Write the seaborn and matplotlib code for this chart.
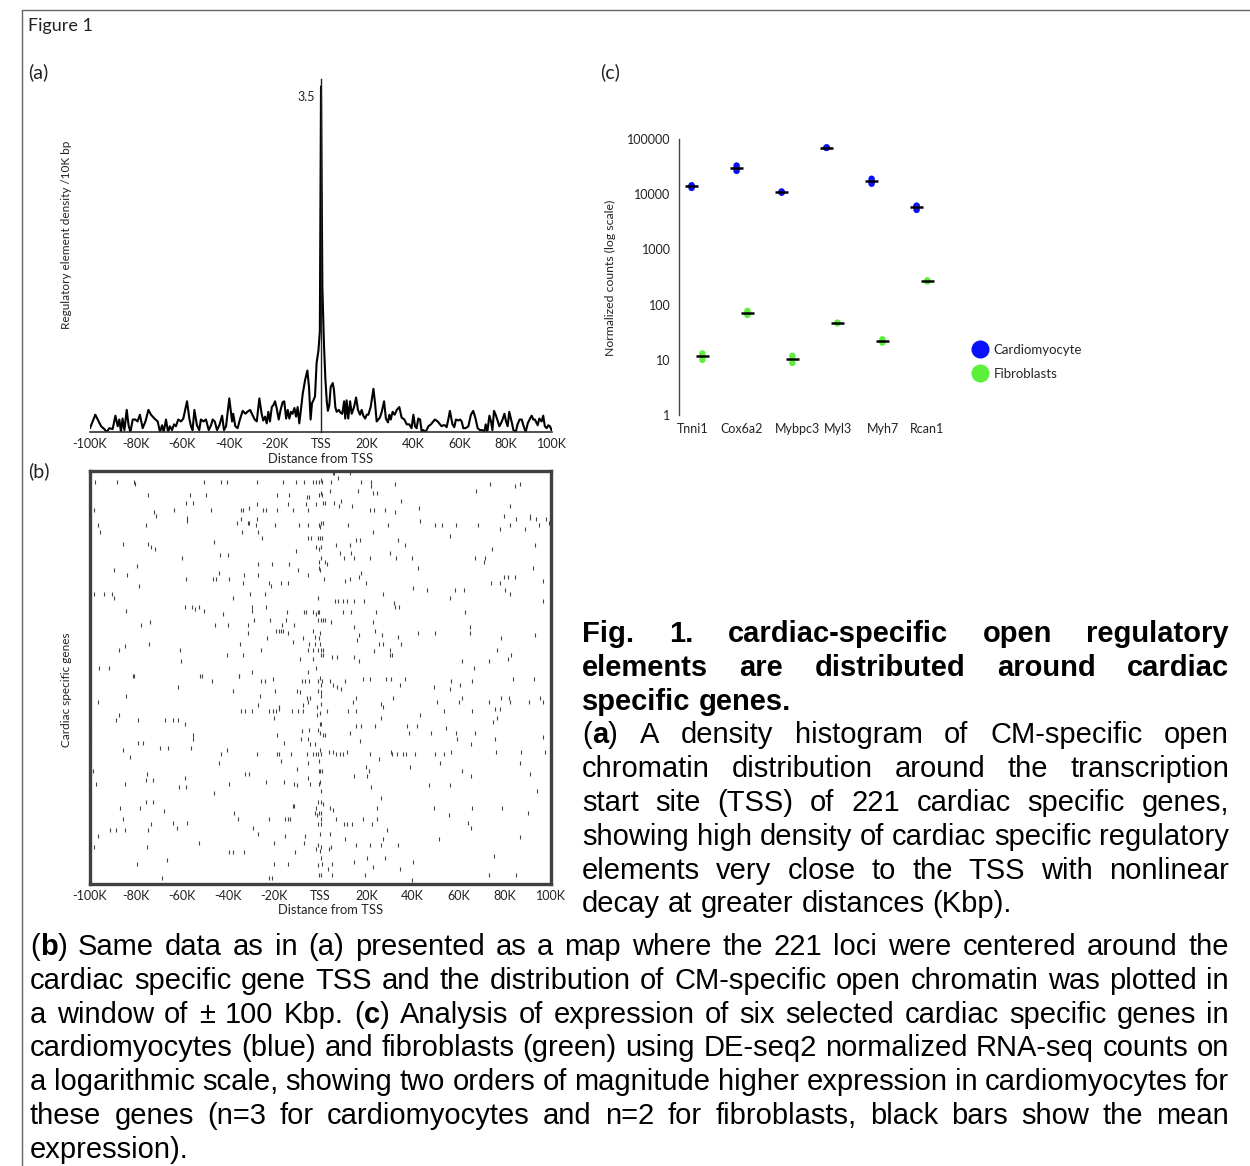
import matplotlib

matplotlib.use("Agg")

import matplotlib.pyplot as plt
import numpy as np
import pandas as pd
import seaborn as sns
from matplotlib.lines import Line2D
from matplotlib.transforms import IdentityTransform

sns.set_theme(style="white")
plt.rcParams["font.family"] = ["Lato", "DejaVu Sans"]

W, H = 1250, 1166

# ---- panel (a): density of regulatory elements around TSS (kb, density)
density_kb = [
    -100.0, -97.7, -95.2, -93.8, -92.8, -91.6, -90.2, -89.0, -88.0, -87.3, -86.6, -85.9, -85.1, -84.1,
    -83.3, -82.5, -81.5, -80.4, -79.4, -78.4, -77.2, -76.0, -74.7, -73.6, -72.1, -70.7, -69.7, -68.8,
    -68.1, -67.1, -66.2, -65.4, -64.5, -63.6, -62.8, -61.8, -60.6, -59.6, -58.0, -57.0, -56.3, -55.6,
    -54.8, -53.7, -52.7, -52.0, -50.9, -49.8, -48.6, -47.6, -46.9, -46.0, -45.0, -44.0, -42.8, -42.0,
    -41.1, -39.7, -38.5, -38.0, -37.1, -36.1, -35.1, -33.9, -32.7,
    -31.9, -30.7, -29.7, -28.7, -27.8, -26.7, -25.7, -25.0, -24.2, -23.5, -22.8, -22.1, -21.3, -20.6,
    -19.9, -19.2, -18.3, -17.5, -16.6, -15.9, -15.1, -14.4, -13.7, -13.0, -12.3, -11.5, -10.8, -10.1,
    -9.4, -8.7, -7.9, -6.9, -5.9, -5.2, -4.5, -3.9, -3.3, -2.6, -1.9, -1.1, -0.5, 0.0, 0.6, 1.3, 1.9,
    2.5, 3.0, 3.6, 4.2, 5.1, 5.6, 6.2, 6.8, 7.7, 8.5, 9.2, 10.0, 10.5, 11.1, 11.8, 12.6, 13.3, 14.3,
    15.2, 16.0, 16.9, 17.6, 18.3, 19.1, 19.8, 20.5, 21.5, 22.7, 23.4, 24.1, 24.8, 25.5, 26.3, 27.3,
    28.1, 29.0, 29.6, 30.2, 31.0, 31.9, 32.8, 33.9,
    34.9, 36.1, 37.1, 38.2, 39.2, 40.0, 40.7, 41.4, 42.1, 42.9, 43.6, 44.3, 45.3, 46.5, 47.6, 48.3,
    49.3, 50.5, 51.2, 52.2, 52.9, 53.7, 54.4, 55.1, 55.8, 56.9, 57.7, 58.4, 59.4, 60.2, 60.9, 61.6,
    62.6, 63.8, 64.9, 65.9, 66.9, 67.8, 68.8, 69.8, 70.7, 71.3, 72.0, 72.9, 73.6, 74.2, 74.9, 75.6,
    76.3, 77.2, 77.9, 78.6, 79.4, 80.1, 80.8, 81.5, 82.5, 83.3, 84.3, 85.1, 86.0, 86.9, 87.6, 88.6,
    89.5, 90.5, 91.2, 91.9, 92.6, 93.8, 94.5, 95.5, 96.2, 96.9, 97.7, 98.4, 99.1, 99.8,
]
density_val = [
    0.04, 0.18, 0.06, 0.03, 0.0, 0.04, 0.03, 0.17, 0.06, 0.13, 0.0, 0.14, 0.02, 0.23,
    0.07, 0.0, 0.13, 0.13, 0.11, 0.18, 0.04, 0.11, 0.23, 0.18, 0.14, 0.11, 0.0, 0.07,
    0.0, 0.13, 0.0, 0.06, 0.02, 0.08, 0.06, 0.13, 0.11, 0.14, 0.32, 0.14, 0.06, 0.02,
    0.23, 0.07, 0.02, 0.13, 0.11, 0.13, 0.02, 0.07, 0.13, 0.11, 0.02, 0.07, 0.17, 0.02,
    0.06, 0.35, 0.11, 0.19, 0.06, 0.04, 0.13, 0.22, 0.19,
    0.21, 0.23, 0.18, 0.13, 0.11, 0.35, 0.19, 0.12, 0.16, 0.09, 0.21, 0.11, 0.26, 0.28,
    0.32, 0.25, 0.13, 0.23, 0.31, 0.32, 0.14, 0.23, 0.14, 0.21, 0.19, 0.25, 0.16, 0.26,
    0.09, 0.23, 0.40, 0.54, 0.64, 0.47, 0.13, 0.30, 0.33, 0.37, 0.72, 0.85, 1.05, 3.6, 1.5, 0.9, 0.55,
    0.32, 0.22, 0.28, 0.47, 0.51, 0.44, 0.26, 0.21, 0.23, 0.20, 0.19, 0.32, 0.14, 0.33, 0.14, 0.32, 0.19, 0.26,
    0.36, 0.23, 0.18, 0.23, 0.17, 0.14, 0.18, 0.18, 0.26, 0.45, 0.30, 0.11, 0.13, 0.15, 0.21, 0.32,
    0.14, 0.10, 0.18, 0.13, 0.21, 0.18, 0.23, 0.26,
    0.15, 0.13, 0.08, 0.08, 0.04, 0.18, 0.06, 0.04, 0.14, 0.13, 0.0, 0.02, 0.0, 0.06, 0.08, 0.10,
    0.13, 0.11, 0.09, 0.06, 0.07, 0.07, 0.05, 0.13, 0.22, 0.08, 0.05, 0.13, 0.12, 0.13, 0.11, 0.04,
    0.04, 0.06, 0.18, 0.22, 0.14, 0.04, 0.02, 0.02, 0.0, 0.08, 0.0, 0.17, 0.11, 0.02, 0.22, 0.18,
    0.13, 0.06, 0.09, 0.13, 0.19, 0.11, 0.06, 0.21, 0.11, 0.02, 0.0, 0.08, 0.13, 0.13, 0.07, 0.0,
    0.09, 0.14, 0.17, 0.13, 0.13, 0.07, 0.14, 0.11, 0.17, 0.06, 0.04, 0.07, 0.06, 0.02,
]

distance_ticks = [-100, -80, -60, -40, -20, 0, 20, 40, 60, 80, 100]
distance_labels = ["-100K", "-80K", "-60K", "-40K", "-20K", "TSS", "20K", "40K", "60K", "80K", "100K"]

# ---- panel (b): element positions (kb from TSS, locus row 0..220), read per quadrant
marks_top_left = [
    (-97.7, 5), (-88.3, 5), (-80.7, 5), (-80.3, 6), (-50.4, 5), (-43.1, 5), (-40.5, 5), (-27.5, 5),
    (-16.4, 5), (-10.6, 5), (-7.0, 5), (-3.4, 5), (-1.9, 5), (-0.5, 5),
    (-74.7, 12), (-56.6, 12), (-49.6, 12), (-18.9, 12), (-13.5, 12), (-5.8, 13), (-4.8, 13), (-0.5, 12),
    (-58.3, 16), (-55.1, 16), (-27.5, 17), (-14.2, 17), (-6.3, 17), (-1.9, 17),
    (-98.1, 20), (-72.1, 21), (-71.3, 23), (-63.7, 20), (-58.0, 24), (-57.9, 26), (-47.5, 20),
    (-34.5, 20), (-33.7, 20), (-31.1, 19), (-25.1, 20), (-23.6, 20), (-18.9, 20), (-12.1, 20), (-5.5, 20),
    (-34.5, 25), (-36.2, 27), (-31.6, 27), (-30.9, 27), (-27.5, 25),
    (-96.6, 28), (-75.7, 28), (-27.9, 28), (-19.6, 28), (-9.2, 28), (-5.5, 28), (-0.5, 28),
    (-95.6, 32), (-34.2, 32), (-27.2, 32), (-25.5, 35), (-5.5, 35), (-4.1, 35), (-1.2, 35),
    (-46.0, 37), (-85.8, 38), (-74.9, 38), (-73.5, 40), (-71.8, 41), (-1.9, 40), (-0.5, 41),
    (-10.6, 42), (-43.6, 44), (-40.2, 44), (-60.2, 46),
    (-27.2, 49), (-21.2, 49), (-13.5, 49), (-0.5, 48), (-0.5, 51), (-79.7, 50), (-89.7, 52), (-9.9, 52),
    (-44.1, 54), (-84.1, 55), (-33.4, 55), (-27.2, 55), (-5.5, 55),
    (-58.3, 57), (-46.8, 57), (-45.3, 57), (-39.5, 57),
    (-33.7, 59), (-22.5, 59), (-21.4, 61), (-17.1, 59), (-14.2, 59), (-78.6, 61),
    (-98.1, 65), (-94.0, 65), (-90.6, 65), (-89.4, 67), (-30.4, 65), (-23.9, 65), (-38.1, 67), (-0.9, 67),
    (-59.0, 72), (-55.7, 72), (-54.4, 73), (-52.8, 72), (-50.4, 74), (-29.8, 72), (-29.8, 74), (-23.6, 72),
    (-84.3, 74), (-14.5, 75), (-7.0, 75), (-6.3, 75), (-3.4, 75), (-1.9, 76), (-0.9, 75), (-42.1, 76),
    (-14.9, 79), (-28.7, 79), (-21.9, 79), (-0.9, 79), (-73.8, 80),
    (-77.8, 82), (-45.7, 82), (-40.2, 82), (-31.3, 82), (-16.7, 82), (-11.3, 82),
    (-19.3, 85), (-17.8, 85), (-17.1, 85), (-16.4, 85), (-14.2, 86), (-3.1, 85), (-31.3, 86),
    (-2.5, 88), (-23.2, 89), (-7.7, 89), (-0.5, 89), (-12.1, 91),
    (-74.2, 92), (-34.9, 92), (-4.8, 92), (-2.6, 92), (-84.6, 93),
    (-87.5, 95), (-60.9, 95), (-25.8, 95), (-5.5, 95), (-3.4, 95), (-1.2, 95),
    (-40.5, 98), (-33.7, 98), (-8.9, 100), (-3.4, 100), (-60.5, 101),
    (-96.2, 105), (-91.9, 105), (-1.9, 105), (-29.8, 107), (-5.5, 107),
    (-81.5, 109), (-80.8, 109), (-52.1, 109), (-51.5, 109), (-35.2, 109),
]
marks_top_right = [
    (5.4, 0), (5.9, 0), (12.9, 0), (0.4, 4), (0.7, 5), (4.4, 5), (7.6, 3), (17.4, 5), (21.8, 5),
    (32.5, 6), (73.4, 6), (84.2, 7), (86.7, 6), (22.1, 7),
    (4.0, 10), (16.3, 10), (22.8, 11), (24.7, 11), (67.6, 10), (0.1, 11), (0.7, 12),
    (35.1, 15), (8.8, 15), (1.1, 16), (2.1, 16), (5.9, 16), (7.9, 18), (13.8, 18), (82.4, 18), (42.7, 19),
    (21.6, 20), (23.1, 20), (27.8, 20), (32.5, 21), (79.5, 23), (90.7, 23),
    (84.7, 25), (90.7, 24), (93.6, 25), (98.0, 25), (43.0, 26), (0.1, 27), (0.9, 27), (99.0, 27),
    (11.9, 28), (29.3, 28), (49.5, 28), (52.7, 28), (58.6, 28), (68.3, 28), (82.1, 28), (94.6, 28),
    (-0.4, 29), (77.7, 30), (88.9, 30), (22.8, 32), (56.3, 34), (-0.4, 35), (0.7, 35),
    (15.3, 36), (17.0, 36), (33.6, 36), (6.9, 39), (12.7, 39), (36.5, 39), (92.9, 39), (0.1, 40),
    (74.4, 41), (8.6, 43), (13.4, 43), (30.0, 43),
    (10.2, 46), (14.5, 46), (21.3, 46), (32.9, 46), (39.7, 46), (67.2, 46), (71.2, 46), (0.4, 46), (1.8, 48),
    (70.8, 48), (3.0, 49), (42.3, 51), (92.2, 51), (-0.4, 52), (17.7, 54),
    (16.6, 56), (79.6, 56), (81.3, 56), (84.2, 56), (1.4, 57), (12.9, 57), (10.5, 58), (96.5, 58),
    (19.9, 59), (74.1, 59), (77.7, 59), (40.1, 62), (46.3, 63), (58.2, 63), (62.1, 63), (80.2, 63),
    (27.1, 65), (82.1, 65), (56.0, 67),
    (6.4, 69), (7.6, 69), (9.8, 69), (11.6, 69), (14.5, 69), (18.9, 69), (96.5, 69),
    (31.7, 70), (32.5, 72), (33.9, 72), (-0.6, 75), (9.8, 75), (13.2, 75), (23.9, 75), (62.5, 75),
    (0.1, 79), (1.1, 79), (2.1, 79), (4.4, 80), (22.8, 80), (14.5, 83), (64.7, 83), (23.5, 85),
    (-0.4, 86), (42.3, 86), (49.5, 86), (64.7, 86), (16.7, 87), (26.8, 87), (92.9, 87), (33.6, 88),
    (78.4, 89), (16.0, 90), (-0.1, 92), (25.4, 92), (27.1, 92), (34.8, 92),
    (0.4, 95), (1.1, 95), (30.0, 95), (76.6, 95), (23.2, 96),
    (0.1, 98), (1.1, 98), (30.3, 98), (31.0, 98), (82.5, 98), (5.0, 99), (7.3, 99), (14.5, 99), (81.3, 100),
    (16.7, 101), (61.4, 101), (73.0, 101), (66.4, 105),
]
marks_bottom_left = [
    (-47.0, 112), (-35.2, 109), (-25.8, 112), (-24.0, 112), (-20.7, 111), (-8.0, 112), (-6.6, 112),
    (-5.1, 112), (-0.9, 112), (-61.9, 115), (-38.1, 117), (-19.6, 117), (-10.3, 117), (-0.9, 117),
    (-8.9, 118), (-84.3, 120), (-26.1, 120), (-6.0, 121), (-4.5, 121), (-96.6, 123), (-5.3, 123),
    (-26.9, 125), (-7.4, 125), (-17.8, 126), (-1.6, 126),
    (-34.5, 128), (-32.6, 128), (-29.7, 128), (-22.5, 128), (-20.7, 128), (-19.3, 128), (-17.8, 127),
    (-12.5, 128), (-9.9, 128), (-7.4, 128), (-1.6, 130), (-87.5, 130), (-20.0, 132),
    (-88.7, 133), (-79.3, 133), (-67.4, 133), (-63.8, 133), (-61.9, 133), (-58.9, 135), (-0.2, 135),
    (-4.8, 138), (-0.9, 138), (-8.0, 139), (-99.4, 141), (-55.4, 141), (-55.4, 143), (-19.0, 141),
    (-8.4, 143), (-5.5, 143), (-79.3, 145), (-76.8, 145), (-15.7, 145), (-4.5, 146), (-2.6, 146),
    (-69.6, 148), (-66.3, 148), (-56.2, 148), (-85.5, 149), (-40.4, 149), (-0.1, 149),
    (-43.1, 151), (-27.5, 151), (-18.8, 151), (-18.1, 151), (-12.8, 151), (-6.0, 151), (-3.4, 151),
    (-1.9, 151), (-0.9, 151), (-82.5, 153), (-17.1, 155), (-0.8, 155), (-43.9, 156), (-5.5, 156),
    (-10.3, 159), (-98.8, 160), (-0.5, 160), (-75.4, 162), (-32.6, 162), (-31.1, 162), (-59.0, 164),
    (-5.5, 164), (-75.7, 165), (-72.8, 165), (-23.6, 166), (-15.9, 166),
    (-97.4, 167), (-84.6, 167), (-39.9, 167), (-4.5, 167), (-0.5, 167), (-11.6, 167), (-10.3, 168),
    (-61.2, 169), (-58.3, 169), (-46.3, 172), (-75.7, 177), (-72.8, 177), (-0.9, 177), (-1.9, 180),
    (-0.5, 183), (-12.1, 179), (-11.3, 179), (-87.2, 180), (-78.1, 180), (-67.7, 182),
    (-37.4, 183), (-2.6, 183), (-1.5, 184), (-85.5, 186), (-35.6, 186), (-22.5, 186), (-15.4, 186),
    (-14.2, 186), (-13.2, 186), (-63.8, 188), (-58.0, 188), (-73.5, 189), (-0.9, 189), (-29.4, 191),
    (-62.4, 191), (-91.3, 192), (-88.7, 192), (-84.8, 192), (-75.0, 192), (-26.9, 194),
    (-96.6, 195), (-15.4, 195), (-6.6, 195), (-52.5, 199), (-20.3, 199), (-7.0, 199), (-1.2, 200),
    (-98.4, 201), (-75.2, 201), (-1.9, 202), (-39.8, 204), (-38.1, 204), (-33.0, 204), (-10.9, 204),
    (-66.7, 208), (-79.6, 210), (-20.0, 210), (-14.2, 210), (-0.9, 211),
    (-68.9, 218), (-22.2, 218), (-21.2, 218), (-0.5, 216),
]
marks_bottom_right = [
    (-0.4, 110), (0.7, 112), (0.1, 114), (4.0, 112), (10.5, 112), (18.4, 111), (21.6, 111), (28.3, 111),
    (30.4, 111), (36.8, 111), (56.8, 112), (65.9, 112), (83.5, 111), (92.5, 111),
    (5.4, 114), (7.3, 115), (8.8, 116), (34.6, 114), (49.1, 115), (56.0, 116), (60.4, 114),
    (0.1, 118), (0.4, 120), (15.3, 121), (31.5, 121), (61.4, 121), (78.2, 121), (81.6, 121), (95.1, 121),
    (14.1, 123), (50.7, 123), (59.9, 123), (73.1, 123), (82.1, 123), (90.3, 123), (96.5, 123),
    (0.1, 124), (26.1, 124), (27.1, 126), (75.6, 127), (77.7, 127),
    (3.0, 128), (11.9, 128), (15.3, 128), (53.4, 128), (65.7, 128), (-0.4, 129), (43.3, 130),
    (26.4, 132), (76.6, 132), (74.8, 134), (0.1, 135),
    (15.3, 136), (17.7, 136), (23.5, 136), (37.7, 136), (42.0, 136), (54.6, 137),
    (-0.4, 140), (1.1, 141), (2.1, 141), (12.9, 140), (38.2, 140), (48.1, 140), (58.6, 140), (66.9, 140),
    (96.5, 142), (59.4, 143), (75.6, 143), (17.0, 144), (65.4, 146),
    (3.7, 150), (5.4, 150), (11.6, 150), (30.4, 150), (56.8, 150), (76.0, 150), (86.8, 150), (97.5, 150),
    (0.1, 151), (6.9, 151), (8.3, 151), (9.8, 151), (21.3, 151), (31.0, 151), (33.2, 151), (35.8, 151),
    (37.2, 151), (40.9, 151), (49.8, 151), (53.6, 151),
    (25.4, 154), (51.7, 156), (86.4, 156), (38.7, 158), (-0.4, 160), (0.7, 160), (19.9, 158), (20.9, 160),
    (61.4, 160), (90.7, 162), (14.5, 163), (65.4, 163), (20.3, 163), (-0.4, 166), (46.9, 168), (56.3, 168),
    (21.8, 169), (94.1, 171), (0.1, 171), (26.1, 175), (0.1, 177), (1.1, 178),
    (24.7, 180), (4.0, 180), (5.4, 181), (78.9, 180), (49.1, 180), (65.7, 180), (0.1, 183), (90.0, 183),
    (55.6, 184), (0.1, 186), (6.9, 186), (18.4, 186), (24.7, 186), (64.0, 188),
    (0.4, 189), (10.2, 189), (11.6, 189), (13.8, 189), (22.5, 189), (65.1, 191), (29.0, 192),
    (-0.4, 194), (4.0, 194), (86.4, 196), (10.5, 197), (27.1, 197), (51.3, 197),
    (15.5, 200), (21.3, 200), (26.4, 200), (33.6, 200), (0.4, 201), (4.7, 201), (3.5, 202), (-0.4, 203),
    (75.3, 206), (20.2, 207), (27.8, 207), (0.1, 207), (14.5, 209), (40.1, 209), (0.7, 210), (5.0, 210),
    (22.8, 212), (3.3, 213), (34.4, 213), (5.0, 216), (19.2, 216), (73.1, 216), (85.0, 216), (0.1, 216),
    (39.8, 219),
]
n_loci = 221

# ---- panel (c): normalized RNA-seq counts
genes = ["Tnni1", "Cox6a2", "Mybpc3", "Myl3", "Myh7", "Rcan1"]
cm_counts = [[14500, 13000, 14000], [33000, 30000, 26500], [11200, 10800, 10700],
             [70500, 69000, 69500], [19000, 17000, 15500], [6200, 6000, 5200]]
fb_counts = [[13.0, 10.0], [77, 65], [11.8, 8.8], [47, 46], [23.5, 20.5], [275, 262]]
cell_colors = {"Cardiomyocyte": "#0a10f8", "Fibroblasts": "#5cf03c"}
# the original gene labels sit slightly off their columns
label_shift = [-0.09, 0.0, 0.24, 0.14, 0.14, 0.12]


fig = plt.figure(figsize=(W / 100, H / 100), dpi=100)
fig.patch.set_facecolor("white")


def px_axes(left, top, right, bottom):
    return fig.add_axes([left / W, 1 - bottom / H, (right - left) / W, (bottom - top) / H])


def ptext(x, y, s, **kw):
    fig.text(x / W, 1 - y / H, s, **kw)


TICK_SIZE = 9
LABEL_SIZE = 9.3

# outer frame and headers
fig.add_artist(Line2D([22 / W, 22 / W], [1 - 10 / H, 0], color="#666666", lw=1.0))
fig.add_artist(Line2D([22 / W, 1], [1 - 10 / H, 1 - 10 / H], color="#666666", lw=1.0))
ptext(28, 26, "Figure 1", fontsize=13, color="#222222", va="center")
ptext(28, 72, "(a)", fontsize=14, color="#222222", va="center")
ptext(28, 471, "(b)", fontsize=14, color="#222222", va="center")
ptext(600, 72, "(c)", fontsize=14, color="#222222", va="center")

# ---------------- (a)
ax_a = px_axes(90, 432 - 3.68 * 96, 552, 432)
sns.lineplot(x=density_kb, y=density_val, ax=ax_a, color="black", linewidth=1.5,
             solid_joinstyle="round")
ax_a.set_xlim(-100, 100)
ax_a.set_ylim(0, 3.68)
for side in ["top", "right"]:
    ax_a.spines[side].set_visible(False)
ax_a.spines["left"].set_position(("data", 0))
ax_a.spines["left"].set_color("#222222")
ax_a.spines["left"].set_linewidth(1.0)
ax_a.spines["bottom"].set_color("#333333")
ax_a.spines["bottom"].set_linewidth(1.2)
ax_a.set_xticks(distance_ticks)
ax_a.set_xticklabels(distance_labels)
ax_a.set_yticks([0.5, 1.0, 1.5, 2.0, 2.5, 3.0, 3.5])
ax_a.set_yticklabels(["", "", "", "", "", "", "3.5"])
ax_a.tick_params(axis="x", length=3, width=0.8, direction="out", labelsize=TICK_SIZE, pad=1.5,
                 colors="#222222")
ax_a.tick_params(axis="y", length=3, width=0.8, direction="out", labelsize=TICK_SIZE, pad=1,
                 colors="#222222")
ax_a.set_xlabel("")
ax_a.set_ylabel("")
ptext(321, 459, "Distance from TSS", fontsize=LABEL_SIZE, ha="center", va="center", color="#222222")
ptext(67, 235, "Regulatory element density /10K bp", fontsize=8.5, rotation=90,
      ha="center", va="center", color="#222222")

# ---------------- (b)
marks = pd.DataFrame(marks_top_left + marks_top_right + marks_bottom_left + marks_bottom_right,
                     columns=["kb", "locus"])
ax_b = px_axes(90, 471, 551, 884)
sns.scatterplot(data=marks, x="kb", y="locus", marker="|", s=7, color="#444444",
                linewidth=0.8, ax=ax_b, legend=False)
ax_b.set_xlim(-100, 100)
ax_b.set_ylim(n_loci, -1)
ax_b.set_yticks([])
ax_b.set_xticks(distance_ticks)
ax_b.set_xticklabels(distance_labels)
ax_b.tick_params(axis="x", length=3, width=0.8, direction="out", labelsize=TICK_SIZE, pad=1.5,
                 colors="#222222")
for side in ax_b.spines.values():
    side.set_color("#404040")
    side.set_linewidth(2.4)
ax_b.set_xlabel("")
ax_b.set_ylabel("")
ptext(331, 910, "Distance from TSS", fontsize=LABEL_SIZE, ha="center", va="center", color="#222222")
ptext(67, 690, "Cardiac specific genes", fontsize=8.5, rotation=90, ha="center", va="center",
      color="#222222")

# ---------------- (c)
rows = []
for i, g in enumerate(genes):
    for v in cm_counts[i]:
        rows.append({"gene": g, "cell": "Cardiomyocyte", "pos": i - 0.12, "count": v})
    for v in fb_counts[i]:
        rows.append({"gene": g, "cell": "Fibroblasts", "pos": i + 0.12, "count": v})
expr = pd.DataFrame(rows)
means = expr.groupby(["pos", "cell"], as_index=False)["count"].mean()

ax_c = px_axes(679, 139, 949, 415)
ax_c.set_yscale("log")
sns.scatterplot(data=expr, x="pos", y="count", hue="cell", palette=cell_colors, s=22,
                edgecolor="none", legend=False, ax=ax_c, zorder=2)
ax_c.hlines(means["count"], means["pos"] - 0.15, means["pos"] + 0.15, color="black", lw=1.8, zorder=3)
ax_c.set_xlim(-0.4, 5.6)
ax_c.set_ylim(1, 100000)
ax_c.set_xticks([i + s for i, s in enumerate(label_shift)])
ax_c.set_xticklabels(genes)
ax_c.set_yticks([1, 10, 100, 1000, 10000, 100000])
ax_c.set_yticklabels(["1", "10", "100", "1000", "10000", "100000"])
ax_c.minorticks_off()
ax_c.tick_params(axis="x", length=0, labelsize=TICK_SIZE, pad=6, colors="#222222")
ax_c.tick_params(axis="y", length=3, width=0.8, direction="out", labelsize=TICK_SIZE, pad=3,
                 colors="#222222")
for side in ["top", "right", "bottom"]:
    ax_c.spines[side].set_visible(False)
ax_c.spines["left"].set_color("#444444")
ax_c.spines["left"].set_linewidth(1.0)
ax_c.set_xlabel("")
ax_c.set_ylabel("")
ptext(610, 278, "Normalized counts (log scale)", fontsize=8.8, rotation=90, ha="center", va="center",
      color="#222222")
handles = [Line2D([], [], marker="o", linestyle="none", markersize=13, markeredgewidth=0,
                  markerfacecolor=c) for c in cell_colors.values()]
fig.legend(handles, list(cell_colors.keys()), loc="center left",
           bbox_to_anchor=(964 / W, 1 - 362 / H), frameon=False, fontsize=9.5,
           handletextpad=0.35, labelspacing=0.9, borderpad=0, handlelength=1.4)

# ---------------- caption (justified)
CAP_FONT = "Liberation Sans"
CAP_SIZE = 21
renderer = fig.canvas.get_renderer()


def measure(txt, weight):
    t = fig.text(0, 0, txt, fontsize=CAP_SIZE, fontweight=weight, family=CAP_FONT,
                 transform=IdentityTransform())
    w = t.get_window_extent(renderer).width
    t.remove()
    return w


def caption_line(line, x0, x1, y_base, bold=False, justify=True):
    words = []
    for w in line.split(" "):
        parts = w.split("**")
        runs = [(p, "bold" if (bold or k % 2 == 1) else "normal") for k, p in enumerate(parts) if p]
        words.append(runs)
    widths = [[measure(t, wt) for t, wt in runs] for runs in words]
    total = sum(sum(ws) for ws in widths)
    wt0 = "bold" if bold else "normal"
    space = measure("a a", wt0) - measure("aa", wt0)
    gap = (x1 - x0 - total) / (len(words) - 1) if (justify and len(words) > 1) else space
    x = x0
    for runs, ws in zip(words, widths):
        for (t, wt), w in zip(runs, ws):
            fig.text(x, H - y_base, t, fontsize=CAP_SIZE, fontweight=wt, family=CAP_FONT,
                     color="black", ha="left", va="baseline", transform=IdentityTransform())
            x += w
        x += gap


title_lines = ["Fig. 1. cardiac-specific open regulatory",
               "elements are distributed around cardiac",
               "specific genes."]
side_lines = ["(**a**) A density histogram of CM-specific open",
              "chromatin distribution around the transcription",
              "start site (TSS) of 221 cardiac specific genes,",
              "showing high density of cardiac specific regulatory",
              "elements very close to the TSS with nonlinear",
              "decay at greater distances (Kbp)."]
full_lines = ["(**b**) Same data as in (a) presented as a map where the 221 loci were centered around the",
              "cardiac specific gene TSS and the distribution of CM-specific open chromatin was plotted in",
              "a window of \u00b1 100 Kbp. (**c**) Analysis of expression of six selected cardiac specific genes in",
              "cardiomyocytes (blue) and fibroblasts (green) using DE-seq2 normalized RNA-seq counts on",
              "a logarithmic scale, showing two orders of magnitude higher expression in cardiomyocytes for",
              "these genes (n=3 for cardiomyocytes and n=2 for fibroblasts, black bars show the mean",
              "expression)."]

step = 33.8
y = 642.0
for i, line in enumerate(title_lines):
    caption_line(line, 582, 1229, y, bold=True, justify=i < len(title_lines) - 1)
    y += step
for i, line in enumerate(side_lines):
    caption_line(line, 582, 1229, y, justify=i < len(side_lines) - 1)
    y += step
y = 955.0
for i, line in enumerate(full_lines):
    caption_line(line, 30, 1229, y, justify=i < len(full_lines) - 1)
    y += step

fig.savefig("out.png", dpi=100)
